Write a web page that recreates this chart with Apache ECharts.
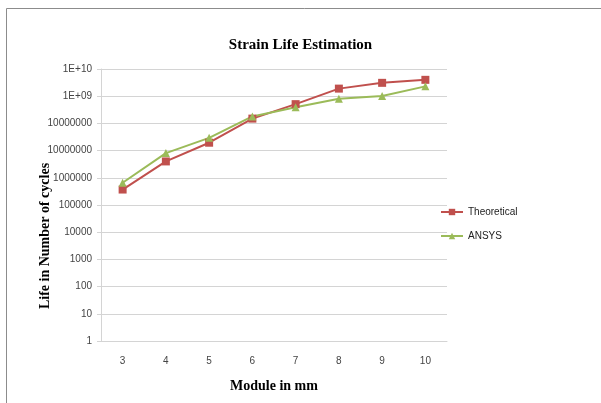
<!DOCTYPE html>
<html><head><meta charset="utf-8">
<script src="https://cdn.jsdelivr.net/npm/echarts@6/dist/echarts.min.js"></script>
<style>html,body{margin:0;padding:0;background:#fff}#c{width:601px;height:403px}</style>
</head><body><div id="c"></div>
<script>
var categories = ['3','4','5','6','7','8','9','10'];
var theoretical = [370000, 4000000, 19500000, 150000000, 510000000, 1900000000, 3100000000, 4000000000];
var ansys = [660000, 8100000, 29500000, 180000000, 390000000, 810000000, 1020000000, 2300000000];
var yTickLabels = ['1','10','100','1000','10000','100000','1000000','10000000','10000000','1E+09','1E+10'];

var chart = echarts.init(document.getElementById('c'));
chart.setOption({
  animation: false,
  backgroundColor: '#fff',
  graphic: [{type:'rect', shape:{x:6.5,y:8.5,width:640,height:440}, style:{fill:'none', stroke:'#8c8c8c', lineWidth:1}, silent:true}],
  title: {text:'Strain Life Estimation', left:'center', top:33,
    textStyle:{fontFamily:'Liberation Serif', fontWeight:'bold', fontSize:15, color:'#000'}},
  grid: {left:101, right:154, top:69, bottom:62},
  legend: {orient:'vertical', left:440, top:207, itemGap:14, itemWidth:22, itemHeight:8,
    textStyle:{fontFamily:'Liberation Sans', fontSize:10, color:'#222'}, padding:0},
  xAxis: {type:'category', data:categories, boundaryGap:true,
    name:'Module in mm', nameLocation:'middle', nameGap:38, nameMoveOverlap:false,
    nameTextStyle:{fontFamily:'Liberation Serif', fontWeight:'bold', fontSize:14, color:'#000'},
    axisLine:{show:true, lineStyle:{color:'#d4d4d4'}}, axisTick:{show:false},
    axisLabel:{fontFamily:'Liberation Sans', fontSize:10, color:'#444', margin:15}},
  yAxis: {type:'log', logBase:10, min:1, max:1e10, interval:1, splitNumber:10,
    name:'Life in Number of cycles', nameLocation:'middle', nameGap:49, nameMoveOverlap:false,
    nameTextStyle:{fontFamily:'Liberation Serif', fontWeight:'bold', fontSize:14, color:'#000', padding:[0,0,0,-62]},
    axisLine:{show:true, lineStyle:{color:'#d4d4d4'}},
    axisTick:{show:true, length:4, lineStyle:{color:'#d4d4d4'}},
    splitLine:{show:true, lineStyle:{color:'#d4d4d4', width:1}},
    axisLabel:{fontFamily:'Liberation Sans', fontSize:10, color:'#444', margin:9,
      formatter:function(v){var i=Math.round(Math.log10(v)); return yTickLabels[i];}}},
  series: [
    {name:'Theoretical', type:'line', data:theoretical, symbol:'rect', symbolSize:8,
      itemStyle:{color:'#c0504d'}, lineStyle:{color:'#c0504d', width:2}},
    {name:'ANSYS', type:'line', data:ansys, symbol:'triangle', symbolSize:8,
      itemStyle:{color:'#9bbb59'}, lineStyle:{color:'#9bbb59', width:2}}
  ]
});
</script></body></html>
